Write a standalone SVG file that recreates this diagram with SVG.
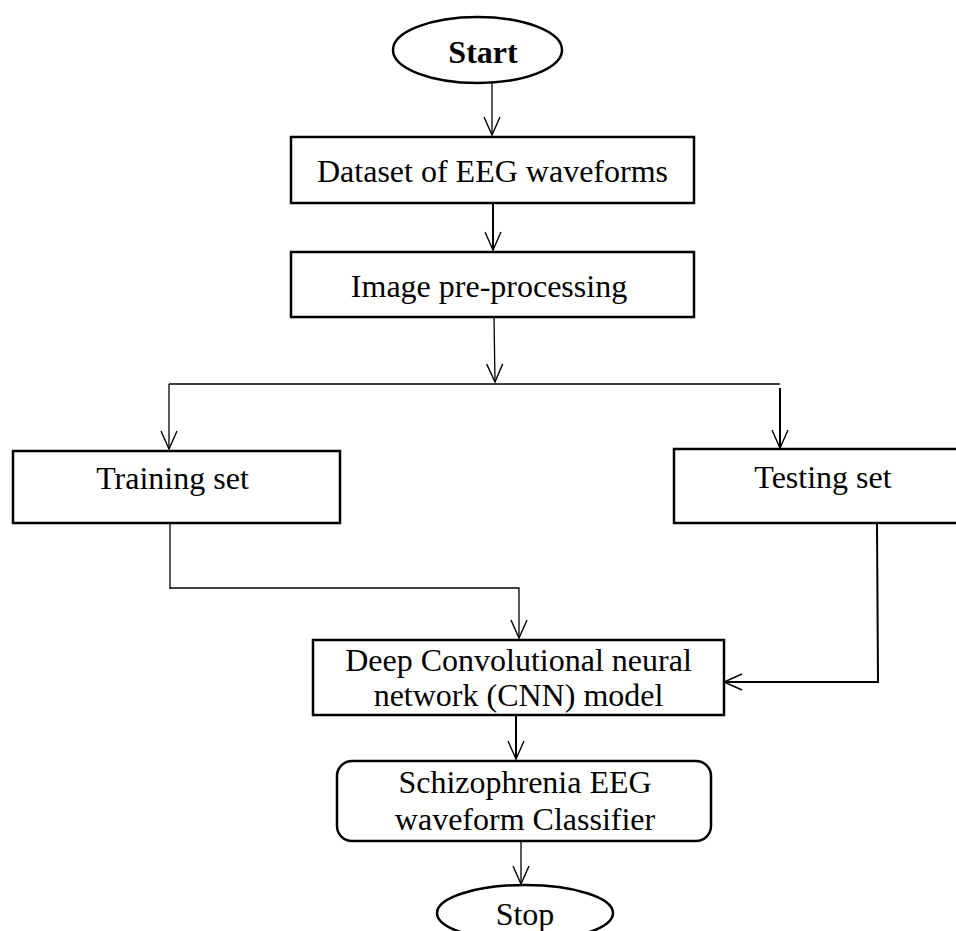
<svg xmlns="http://www.w3.org/2000/svg" width="956" height="931" viewBox="0 0 956 931">
<style>
.box{fill:#fff;stroke:#000;stroke-width:2.5}
.t{font-family:"Liberation Serif","Times New Roman",serif;font-size:32px;fill:#000;text-anchor:middle}
.b{font-weight:bold}
.c{fill:none;stroke:#000;stroke-width:1.3}
.c2{fill:none;stroke:#000;stroke-width:2}
</style>
<defs>
<marker id="ah" markerUnits="userSpaceOnUse" markerWidth="24" markerHeight="24" viewBox="-20 -12 24 24" refX="0" refY="0" orient="auto">
<path d="M-18,-8 L0,0 L-18,8" fill="none" stroke="#000" stroke-width="1.4"/>
</marker>
</defs>
<rect width="956" height="931" fill="#fff"/>
<g id="connectors">
<line class="c" x1="492" y1="83" x2="492" y2="135" marker-end="url(#ah)"/>
<line class="c2" x1="493" y1="203" x2="493" y2="250" marker-end="url(#ah)"/>
<line class="c" x1="494" y1="317" x2="495" y2="382" marker-end="url(#ah)"/>
<line class="c" x1="169" y1="384" x2="780" y2="384"/>
<line class="c" x1="169" y1="384" x2="169" y2="449" marker-end="url(#ah)"/>
<line class="c2" x1="780" y1="388" x2="780" y2="448" marker-end="url(#ah)"/>
<polyline class="c" points="170,524 170,589"/>
<polyline class="c" points="170,588 519,588 519,638" marker-end="url(#ah)"/>
<polyline class="c2" points="877,524 878,682 724,682" marker-end="url(#ah)"/>
<line class="c2" x1="516" y1="715" x2="516" y2="759" marker-end="url(#ah)"/>
<line class="c" x1="521" y1="841" x2="521" y2="884" marker-end="url(#ah)"/>
</g>
<g id="start">
<ellipse class="box" cx="477.5" cy="50" rx="84.5" ry="33"/>
<text class="t b" x="483" y="63">Start</text>
</g>
<g id="dataset">
<rect class="box" x="291" y="137" width="403" height="66"/>
<text class="t" x="492.5" y="182">Dataset of EEG waveforms</text>
</g>
<g id="preprocessing">
<rect class="box" x="291" y="252" width="403" height="65"/>
<text class="t" x="489" y="297">Image pre-processing</text>
</g>
<g id="training">
<rect class="box" x="13" y="451" width="327" height="72"/>
<text class="t" x="172.5" y="489">Training set</text>
</g>
<g id="testing">
<rect class="box" x="674" y="449" width="300" height="74"/>
<text class="t" x="823" y="488">Testing set</text>
</g>
<g id="cnn">
<rect class="box" x="313" y="640" width="411" height="75"/>
<text class="t" x="518.5" y="671">Deep Convolutional neural</text>
<text class="t" x="518.5" y="706">network (CNN) model</text>
</g>
<g id="classifier">
<rect class="box" x="337" y="761" width="374" height="80" rx="15" ry="15"/>
<text class="t" x="525" y="793">Schizophrenia EEG</text>
<text class="t" x="525" y="830">waveform Classifier</text>
</g>
<g id="stop">
<ellipse class="box" cx="525" cy="913" rx="88" ry="28"/>
<text class="t" x="525" y="925">Stop</text>
</g>
</svg>
